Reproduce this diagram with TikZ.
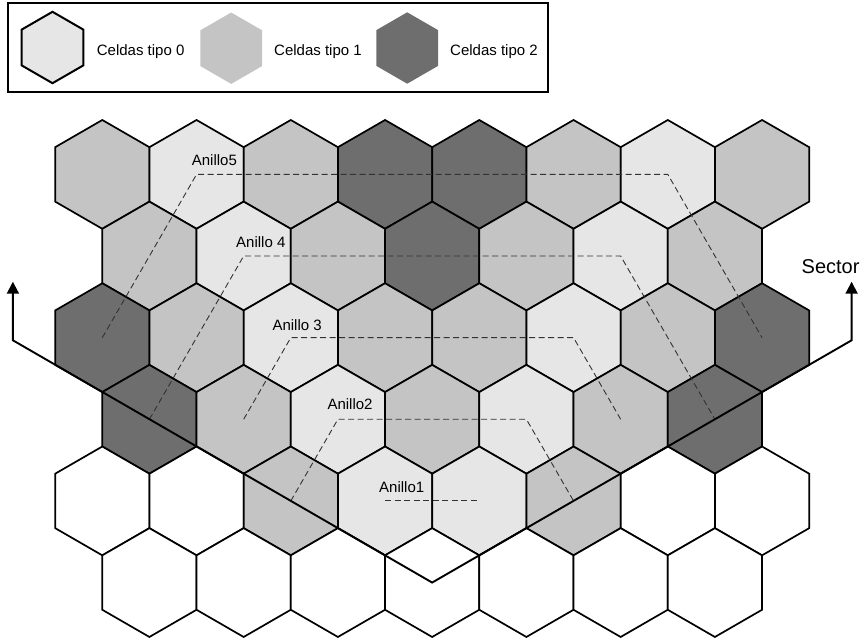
\documentclass[tikz,border=0pt]{standalone}
\usepackage{fontspec}
\setmainfont{Liberation Sans}
\usetikzlibrary{shapes.geometric,arrows.meta}
\definecolor{cellW}{HTML}{FFFFFF}
\definecolor{cellA}{HTML}{E6E6E6}
\definecolor{cellB}{HTML}{C4C4C4}
\definecolor{cellC}{HTML}{6E6E6E}
\begin{document}
\begin{tikzpicture}[x=1pt,y=-1pt,
  hexcell/.style={regular polygon, regular polygon sides=6, shape border rotate=30,
    minimum size=108.84pt, inner sep=0pt, outer sep=0pt, draw=black, line width=1.7pt},
  leghex/.style={regular polygon, regular polygon sides=6, shape border rotate=30,
    minimum size=71.4pt, inner sep=0pt, outer sep=0pt},
  ring/.style={draw=black!80, line width=0.9pt, dash pattern=on 6pt off 3.5pt},
  sectorline/.style={line width=1.9pt, line join=miter,
    {Triangle[width=12pt,length=12pt]}-{Triangle[width=12pt,length=12pt]}},
  lbl/.style={anchor=base west, inner sep=0pt, font=\fontsize{15pt}{18pt}\selectfont},
  biglbl/.style={anchor=base west, inner sep=0pt, font=\fontsize{20pt}{24pt}\selectfont}]
\useasboundingbox (0,0) rectangle (862,643);

% legend
\node[draw=black, line width=2pt, minimum width=539.4pt, minimum height=88.4pt,
  inner sep=0pt] (legend) at (278,47.5) {};
\node[leghex, fill=cellA, draw=black, line width=2pt] (lg0) at (52.5,47.5) {};
\node[leghex, fill=cellB] (lg1) at (231.2,48.2) {};
\node[leghex, fill=cellC] (lg2) at (407.2,48) {};
\node[lbl] (t0) at (96.7,55) {Celdas tipo 0};
\node[lbl] (t1) at (274,55) {Celdas tipo 1};
\node[lbl] (t2) at (450,55.5) {Celdas tipo 2};

% cells
\foreach \r/\xo/\cl in {1/102.3/{B,A,B,C,C,B,A,B},
                        2/149.4/{B,A,B,C,B,A,B},
                        3/102.3/{C,B,A,B,B,A,B,C},
                        4/149.4/{C,B,A,B,A,B,C},
                        5/102.3/{W,W,B,A,A,B,W,W},
                        6/149.4/{W,W,W,W,W,W,W}}{
  \foreach \k [count=\c] in \cl {
    \node[hexcell, fill=cell\k] (r\r-\c) at ({\xo+94.25*(\c-1)},{174.4+81.63*(\r-1)}) {};
  }
}

% rings
\draw[ring] (r5-4.center) -- (r5-5.center);
\draw[ring] (r5-3.center) -- (r4-3.center) -- (r4-5.center) -- (r5-6.center);
\draw[ring] (r4-2.center) -- (r3-3.center) -- (r3-6.center) -- (r4-6.center);
\draw[ring] (r4-1.center) -- (r2-2.center) -- (r2-6.center) -- (r4-7.center);
\draw[ring] (r3-1.center) -- (r1-2.center) -- (r1-7.center) -- (r3-8.center);

% sector
\coordinate (ltip) at (12.9,281.7);
\coordinate (lcorner) at (12.9,340.3);
\coordinate (rtip) at (851.6,281.7);
\coordinate (rcorner) at (851.6,340.3);
\draw[sectorline] (ltip) -- (lcorner) -- (r6-4.center) -- (rcorner) -- (rtip);

% labels
\node[lbl] (a5) at (191.7,165.7) {Anillo5};
\node[lbl] (a4) at (236,247.7) {Anillo 4};
\node[lbl] (a3) at (272.3,330.7) {Anillo 3};
\node[lbl] (a2) at (327.3,409) {Anillo2};
\node[lbl] (a1) at (379,492.3) {Anillo1};
\node[biglbl] (sec) at (801.5,273.3) {Sector};
\end{tikzpicture}
\end{document}
